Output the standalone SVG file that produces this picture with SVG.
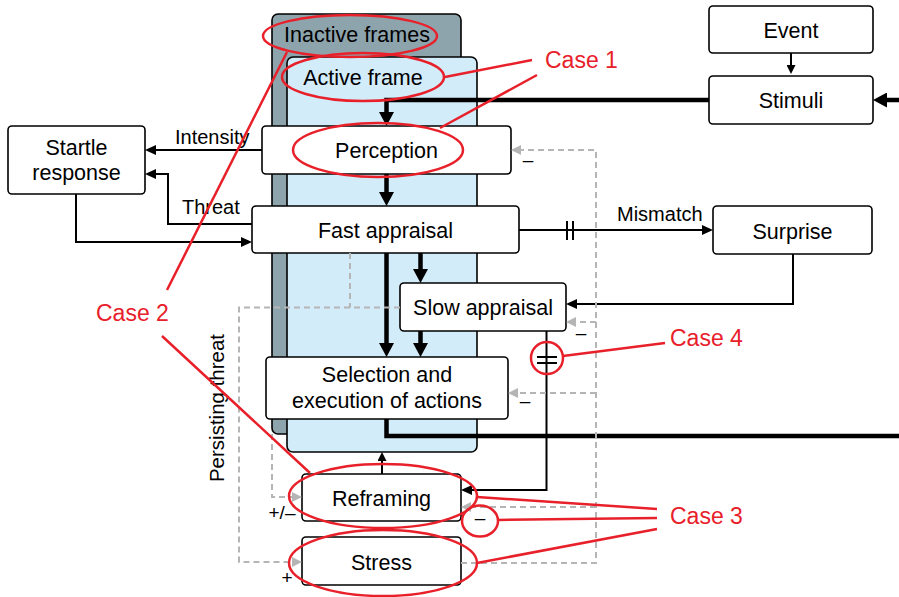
<svg xmlns="http://www.w3.org/2000/svg" width="899" height="597" viewBox="0 0 899 597">
<style>
text{font-family:"Liberation Sans",Arial,sans-serif;fill:#000}
.n{font-size:21.5px;text-anchor:middle}
.lbl{font-size:20px}
.pt{font-size:20.5px;text-anchor:middle}
.sg{font-size:19px;text-anchor:middle}
.box{fill:#fff;stroke:#000;stroke-width:1.6}
.thin{fill:none;stroke:#000;stroke-width:2}
.thick{fill:none;stroke:#000;stroke-width:4.5}
.dash{fill:none;stroke:#b5b5b5;stroke-width:2;stroke-dasharray:6 4}
.red{fill:none;stroke:#e8202a;stroke-width:2.5}
.case{font-size:23px;fill:#e8202a}
</style>
<defs>
<marker id="aThin" markerUnits="userSpaceOnUse" markerWidth="11" markerHeight="10" refX="0" refY="5" orient="auto"><path d="M0,0 L11,5 L0,10 z" fill="#000"/></marker>
<marker id="aSmall" markerUnits="userSpaceOnUse" markerWidth="9" markerHeight="9" refX="0" refY="4.5" orient="auto"><path d="M0,0 L9,4.5 L0,9 z" fill="#000"/></marker>
<marker id="aThick" markerUnits="userSpaceOnUse" markerWidth="14" markerHeight="15" refX="0" refY="7.5" orient="auto"><path d="M0,0 L14,7.5 L0,15 z" fill="#000"/></marker>
<marker id="aGray" markerUnits="userSpaceOnUse" markerWidth="10" markerHeight="10" refX="0" refY="5" orient="auto"><path d="M0,0 L10,5 L0,10 z" fill="#b5b5b5"/></marker>
</defs>
<rect width="899" height="597" fill="#fff"/>
<g id="inactive-frames">
<rect x="272" y="14" width="189" height="420" rx="6" fill="#8ea4ad" stroke="#000" stroke-width="1.6"/>
<text class="n" x="357" y="42">Inactive frames</text>
</g>
<g id="active-frame">
<rect x="287" y="57" width="190" height="395" rx="6" fill="#d2ecfa" stroke="#000" stroke-width="1.6"/>
<text class="n" x="363" y="85">Active frame</text>
</g>
<g id="event"><rect class="box" x="709" y="6" width="164" height="47" rx="4"/><text class="n" x="791" y="38">Event</text></g>
<g id="stimuli"><rect class="box" x="709" y="76" width="164" height="48" rx="4"/><text class="n" x="791" y="108">Stimuli</text></g>
<g id="startle"><rect class="box" x="8" y="126" width="137" height="68" rx="4"/><text class="n" x="76.5" y="155">Startle</text><text class="n" x="76.5" y="180">response</text></g>
<g id="perception"><rect class="box" x="262" y="126" width="249" height="48" rx="4"/><text class="n" x="386.5" y="158">Perception</text></g>
<g id="fast-appraisal"><rect class="box" x="252" y="206" width="267" height="47" rx="4"/><text class="n" x="385.5" y="237.5">Fast appraisal</text></g>
<g id="surprise"><rect class="box" x="713" y="206" width="159" height="48" rx="4"/><text class="n" x="792.5" y="239">Surprise</text></g>
<g id="slow-appraisal"><rect class="box" x="400" y="283" width="166" height="48" rx="4"/><text class="n" x="483" y="315">Slow appraisal</text></g>
<g id="selection"><rect class="box" x="266" y="357" width="242" height="62" rx="4"/><text class="n" x="387" y="382">Selection and</text><text class="n" x="387" y="408">execution of actions</text></g>
<g id="reframing"><rect class="box" x="302" y="474" width="159" height="47" rx="4"/><text class="n" x="381.5" y="506">Reframing</text></g>
<g id="stress"><rect class="box" x="302" y="537" width="159" height="48" rx="4"/><text class="n" x="381.5" y="570">Stress</text></g>
<g id="connectors">
<path class="thin" d="M791,53 V65" marker-end="url(#aSmall)"/>
<path class="thick" d="M899,100 H887" marker-end="url(#aThick)"/>
<path class="thick" d="M709,100 H386.5 V112" marker-end="url(#aThick)"/>
<path class="thick" d="M386.5,174 V192" marker-end="url(#aThick)"/>
<path class="thick" d="M386.5,253 V343" marker-end="url(#aThick)"/>
<path class="thick" d="M420.5,253 V269" marker-end="url(#aThick)"/>
<path class="thick" d="M420.5,331 V343" marker-end="url(#aThick)"/>
<path class="thick" d="M386.5,419 V436 H899"/>
<path class="thin" d="M382,474 V461" marker-end="url(#aSmall)"/>
<path class="thin" d="M262,150 H156" marker-end="url(#aThin)"/>
<path class="thin" d="M252,224 H168 V174 H156" marker-end="url(#aThin)"/>
<path class="thin" d="M76,194 V242 H241" marker-end="url(#aThin)"/>
<path class="thin" d="M519,230 H702" marker-end="url(#aThin)"/>
<path class="thin" d="M567,221 V240 M573,221 V240" stroke-width="2.4"/>
<path class="thin" d="M793,254 V304 H577" marker-end="url(#aThin)"/>
<path class="thin" d="M546.5,331 V490 H472" marker-end="url(#aThin)"/>
<path class="thin" d="M537,357 H557 M537,363 H557" stroke-width="2.6"/>
<path class="dash" d="M461,563 H596 V150 H521" marker-end="url(#aGray)"/>
<path class="dash" d="M596,322 H576" marker-end="url(#aGray)"/>
<path class="dash" d="M596,393 H518" marker-end="url(#aGray)"/>
<path class="dash" d="M596,507 H471" marker-end="url(#aGray)"/>
<path class="dash" d="M350,253 V307.5"/>
<path class="dash" d="M400,307.5 H239 V562 H292" marker-end="url(#aGray)"/>
<path class="dash" d="M272,434 V497 H292" marker-end="url(#aGray)"/>
<text class="lbl" x="175" y="144">Intensity</text>
<text class="lbl" x="182" y="214">Threat</text>
<text class="lbl" x="617" y="221">Mismatch</text>
<text class="pt" transform="translate(224,408) rotate(-90)">Persisting threat</text>
<text class="sg" x="528" y="166">–</text>
<text class="sg" x="581" y="339">–</text>
<text class="sg" x="525" y="407">–</text>
<text class="sg" x="480" y="524">–</text>
<text class="sg" x="282" y="519">+/–</text>
<text class="sg" x="287" y="584">+</text>
</g>
<g id="annotations">
<ellipse class="red" cx="350" cy="36" rx="87" ry="21"/>
<ellipse class="red" cx="363" cy="77" rx="81" ry="24"/>
<ellipse class="red" cx="378" cy="150" rx="85" ry="27"/>
<ellipse class="red" cx="383" cy="496" rx="94" ry="32"/>
<ellipse class="red" cx="383" cy="563" rx="94" ry="33"/>
<ellipse class="red" cx="480" cy="521" rx="18" ry="15.5"/>
<circle class="red" cx="547" cy="358" r="16"/>
<path class="red" d="M532,60 L445,77 M537,75 L440,128"/>
<path class="red" d="M167,290 L287,52 M162,336 L310,473"/>
<path class="red" d="M657,509 L477,497 M657,518 L498,520 M657,529 L477,563"/>
<path class="red" d="M665,343 L563,356"/>
<text class="case" x="545" y="68">Case 1</text>
<text class="case" x="96" y="321">Case 2</text>
<text class="case" x="670" y="346">Case 4</text>
<text class="case" x="670" y="524">Case 3</text>
</g>
</svg>
